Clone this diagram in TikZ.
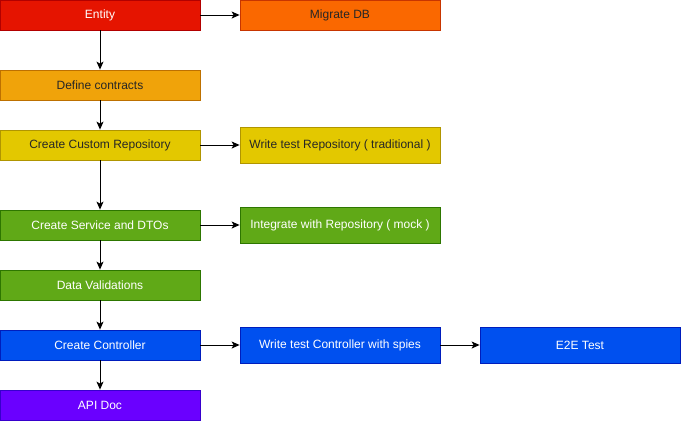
\documentclass[tikz,border=0pt]{standalone}
\usepackage{fontspec}
\setmainfont{Liberation Sans}
\usetikzlibrary{arrows.meta}
\definecolor{redF}{HTML}{E51400}\definecolor{redS}{HTML}{B20000}
\definecolor{oraF}{HTML}{FA6800}\definecolor{oraS}{HTML}{C73500}
\definecolor{ambF}{HTML}{F0A30A}\definecolor{ambS}{HTML}{BD7000}
\definecolor{yelF}{HTML}{E3C800}\definecolor{yelS}{HTML}{B09500}
\definecolor{grnF}{HTML}{60A917}\definecolor{grnS}{HTML}{2D7600}
\definecolor{bluF}{HTML}{0050EF}\definecolor{bluS}{HTML}{001DBC}
\definecolor{vioF}{HTML}{6A00FF}\definecolor{vioS}{HTML}{3700CC}
\begin{document}
\begin{tikzpicture}[x=1pt,y=-1pt,
  box/.style={draw, line width=0.8pt, minimum width=200pt, minimum height=30pt, inner sep=0pt,
    font=\fontsize{12}{14}\selectfont, anchor=center},
  tall/.style={minimum height=36pt},
  c-red/.style={fill=redF, draw=redS, text=white},
  c-ora/.style={fill=oraF, draw=oraS, text=black!85},
  c-amb/.style={fill=ambF, draw=ambS, text=black!85},
  c-yel/.style={fill=yelF, draw=yelS, text=black!85},
  c-grn/.style={fill=grnF, draw=grnS, text=white},
  c-blu/.style={fill=bluF, draw=bluS, text=white},
  c-vio/.style={fill=vioF, draw=vioS, text=white},
  arr/.style={draw=black, line width=1pt, -{Stealth[length=8pt,width=7pt,inset=2pt]}}]
\useasboundingbox (0,0) rectangle (681,421);
\node[box,c-red] (entity) at (100,15) {Entity};
\node[box,c-ora] (migrate) at (340,15) {Migrate DB};
\node[box,c-amb] (contracts) at (100,85) {Define contracts};
\node[box,c-yel] (repo) at (100,145) {Create Custom Repository};
\node[box,c-yel,tall] (testrepo) at (340,145) {Write test Repository ( traditional )};
\node[box,c-grn] (service) at (100,225) {Create Service and DTOs};
\node[box,c-grn,tall] (integrate) at (340,225) {Integrate with Repository ( mock )};
\node[box,c-grn] (valid) at (100,285) {Data Validations};
\node[box,c-blu] (ctrl) at (100,345) {Create Controller};
\node[box,c-blu,tall] (testctrl) at (340,345) {Write test Controller with spies};
\node[box,c-blu,tall] (e2e) at (580,345) {E2E Test};
\node[box,c-vio] (api) at (100,405) {API Doc};
\draw[arr] (entity) -- (migrate);
\draw[arr] (entity) -- (contracts);
\draw[arr] (contracts) -- (repo);
\draw[arr] (repo) -- (testrepo);
\draw[arr] (repo) -- (service);
\draw[arr] (service) -- (integrate);
\draw[arr] (service) -- (valid);
\draw[arr] (valid) -- (ctrl);
\draw[arr] (ctrl) -- (testctrl);
\draw[arr] (testctrl) -- (e2e);
\draw[arr] (ctrl) -- (api);
\end{tikzpicture}
\end{document}
